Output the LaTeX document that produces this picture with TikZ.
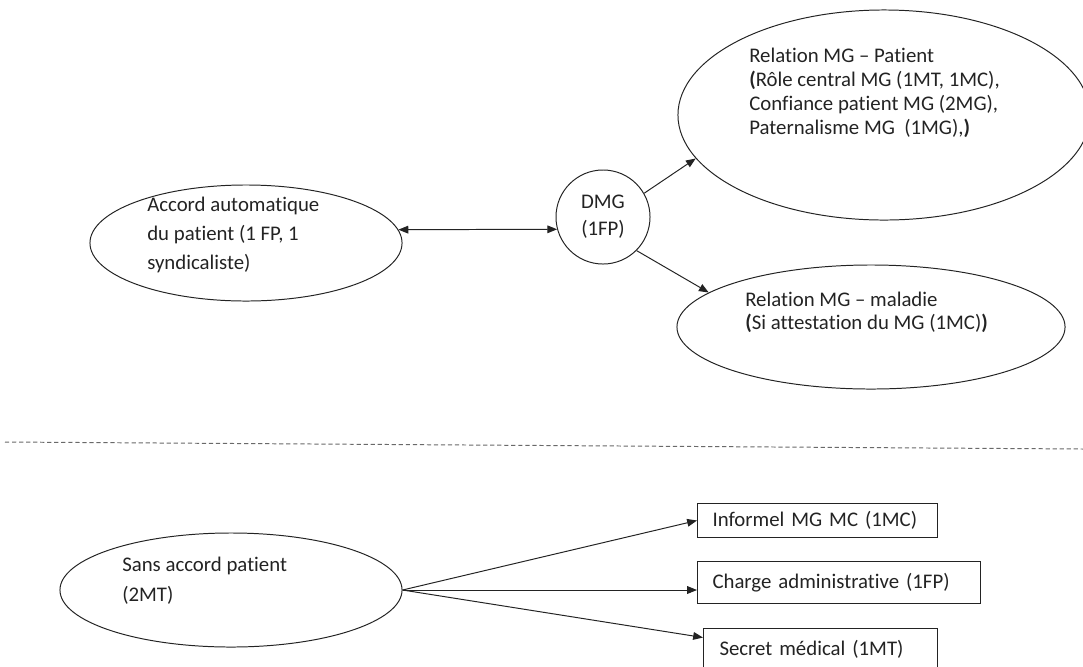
\documentclass[tikz,border=0pt]{standalone}
\usepackage{fontspec}
\setmainfont{Carlito}[Ligatures=NoCommon]
\usepackage{tikz}
\usetikzlibrary{shapes.geometric,arrows.meta,positioning,calc}
\definecolor{ink}{RGB}{35,35,35}
\definecolor{sepgray}{RGB}{105,105,105}
\tikzset{
    bubble/.style={ellipse, draw=ink, line width=0.7pt, inner sep=0pt},
    hub/.style={circle, draw=ink, line width=0.7pt, inner sep=0pt, minimum size=2.35cm,
                align=center, text=ink, font=\fontsize{14.8}{19.2}\selectfont},
    tag/.style={rectangle, draw=ink, line width=0.7pt, inner xsep=0.375cm, inner ysep=0pt,
                align=left, anchor=north west, text=ink, font=\fontsize{14.8}{17.8}\selectfont},
    txt/.style={align=left, inner sep=0pt, anchor=north west, text=ink,
                font=\fontsize{14.8}{#1}\selectfont},
    txt/.default=17.8pt,
    link/.style={draw=ink, line width=0.7pt, -{Triangle[length=7pt,width=5.5pt]}},
    dlink/.style={draw=ink, line width=0.7pt,
                  {Triangle[length=7pt,width=5.5pt]}-{Triangle[length=7pt,width=5.5pt]}},
}

\begin{document}
\begin{tikzpicture}[x=0.025cm, y=-0.025cm]
        \path[use as bounding box, clip] (0,0) rectangle (1083,666);

        % Upper part: with patient agreement
        \node [bubble, minimum width=7.8cm, minimum height=2.9cm]   (accord)  at (246,243) {};
        \node [hub]                                                 (dmg)     at (603,217) {DMG\\(1FP)};
        \node [bubble, minimum width=10.3cm, minimum height=5.25cm] (patient) at (884,115) {};
        \node [bubble, minimum width=9.7cm, minimum height=3.1cm]   (maladie) at (871,327) {};

        \node [txt=20.6pt] (accordtxt)  at (147,197) {Accord automatique\\du patient (1 FP, 1\\syndicaliste)};
        \node [txt=17.1pt] (patienttxt) at (749,48)  {Relation MG -- Patient\\
            \textbf{(}Rôle central MG (1MT, 1MC),\\Confiance patient MG (2MG),\\Paternalisme MG\ \ (1MG),\textbf{)}};
        \node [txt=16.4pt] (maladietxt) at (745,292) {Relation MG -- maladie\\\textbf{(}Si attestation du MG (1MC)\textbf{)}};

        % Separator
        \coordinate (sepL) at (5,442);
        \coordinate (sepR) at (1083,449);
        \draw[sepgray, line width=0.7pt, dash pattern=on 3pt off 2pt] (sepL) -- (sepR);

        % Lower part: without patient agreement
        \node [bubble, minimum width=8.55cm, minimum height=2.85cm] (sans) at (231,590) {};
        \node [txt=21.3pt] (sanstxt) at (122,557) {Sans accord patient\\(2MT)};

        \node [tag, minimum width=6cm, minimum height=0.85cm, text width=5.25cm]     (informel) at (697,503) {Informel MG MC (1MC)};
        \node [tag, minimum width=7.075cm, minimum height=1.05cm, text width=6.325cm] (charge)   at (697,561) {Charge administrative (1FP)};
        \node [tag, minimum width=5.85cm, minimum height=1.05cm, inner xsep=0.4cm, text width=5.05cm] (secret) at (703,628) {Secret médical (1MT)};

        % Arrows
        \draw[dlink] (accord.5) -- (dmg.195);
        \draw[link]  (dmg.30)   -- (patient.193);
        \draw[link]  (dmg.-45)  -- (maladie.168);

        \draw[link]  (sans.east) -- (informel.west);
        \draw[link]  (sans.east) -- (sans.east -| charge.west);
        \draw[link]  (sans.east) -- ([yshift=0.3cm]secret.west);
    \end{tikzpicture}
\end{document}
